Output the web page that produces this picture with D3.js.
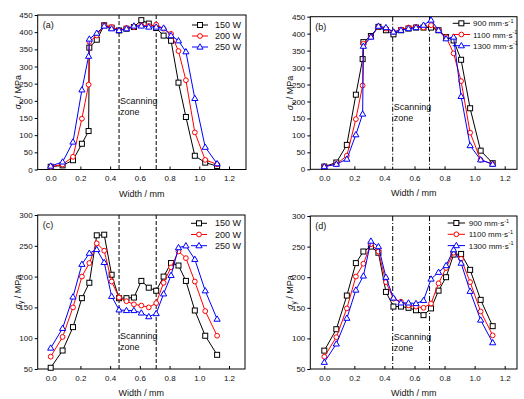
<!DOCTYPE html>
<html><head><meta charset="utf-8">
<script src="https://cdn.jsdelivr.net/npm/d3@7"></script>
<style>body{margin:0;background:#fff}svg{display:block;font-family:Arial,"Liberation Sans",sans-serif}</style>
</head><body><svg id="c" width="524" height="399"></svg>
<script>
// ---------- data ----------
const widthAB = [0,0.08,0.15,0.21,0.255,0.26,0.31,0.36,0.41,0.46,0.51,0.56,0.61,0.66,0.71,0.76,0.81,0.86,0.91,0.97,1.04,1.12];
const widthCD = [0,0.08,0.15,0.21,0.26,0.31,0.36,0.41,0.46,0.51,0.56,0.61,0.66,0.71,0.76,0.81,0.86,0.91,0.97,1.04,1.12];

const powerLabels = ["150 W","200 W","250 W"];
const speedLabels = ["900","1100","1300"];

const a150 = [8,12,27,75,112,355,378,420,413,405,410,415,435,425,412,390,375,253,153,40,20,10];
const a200 = [8,15,37,148,247,372,390,420,415,405,412,415,420,418,422,410,395,345,260,108,28,15];
const a250 = [10,22,80,232,330,380,397,418,410,405,410,418,418,415,415,412,390,375,343,207,65,17];

const b900  = [8,20,72,220,325,375,393,420,410,398,410,415,418,418,418,410,390,380,323,180,55,18];
const b1100 = [8,15,40,148,247,370,390,420,415,405,412,418,420,418,425,410,390,342,260,108,28,15];
const b1300 = [8,15,30,102,163,363,390,422,418,405,410,415,418,425,440,410,385,390,215,70,28,15];

const c150 = [52,80,118,165,190,267,268,203,165,165,166,193,182,177,200,222,218,193,145,104,73];
const c200 = [70,102,150,200,222,254,242,192,166,160,155,153,150,157,190,215,241,230,192,144,104];
const c250 = [84,116,167,220,238,244,223,168,146,145,145,141,135,140,172,202,247,250,228,177,131];

const d900  = [80,115,170,223,242,250,240,176,152,152,150,146,138,149,178,200,237,238,212,163,120];
const d1100 = [70,102,149,201,222,254,242,192,165,160,154,152,150,157,190,215,240,230,192,144,105];
const d1300 = [61,91,133,179,202,259,250,200,166,158,158,157,162,197,208,219,245,223,177,130,93];

const xTicks = [0,0.2,0.4,0.6,0.8,1.0,1.2];
const yTicksX = [0,50,100,150,200,250,300,350,400,450];
const yTicksY = [50,100,150,200,250,300];
const scanLinesAC = [0.46,0.71];
const scanLinesBD = [0.455,0.70];

// ---------- drawing ----------
const svg = d3.select("#c");
const colors = ["#000000","#ff0000","#0000ff"];
const shapes = ["square","circle","triangle"];

function marker(g, shape, x, y, color){
  if(shape==="square") g.append("rect").attr("x",x-2.5).attr("y",y-2.5).attr("width",5).attr("height",5)
     .attr("fill","#fff").attr("stroke",color).attr("stroke-width",1);
  else if(shape==="circle") g.append("circle").attr("cx",x).attr("cy",y).attr("r",2.4)
     .attr("fill","#fff").attr("stroke",color).attr("stroke-width",1);
  else g.append("path").attr("d",`M${x},${y-3.2}L${x+3.1},${y+2.1}L${x-3.1},${y+2.1}Z`)
     .attr("fill","#fff").attr("stroke",color).attr("stroke-width",1);
}

const panels = [
  {label:"(a)", box:{l:37.7,r:246,t:15,b:169.5}, x0:50.7, x12:229, yDom:[0,450], yTicks:yTicksX, sub:"x",
   xs:widthAB, series:[a150,a200,a250], names:powerLabels, speed:false, scan:scanLinesAC, dash:"4,2", scanY:103.5,
   leg:{x1:192,x2:208,tx:215,y0:25,dy:11}},
  {label:"(b)", box:{l:310.3,r:517,t:16.7,b:169.3}, x0:324.3, x12:504.7, yDom:[0,450], yTicks:yTicksX, sub:"x",
   xs:widthAB, series:[b900,b1100,b1300], names:speedLabels, speed:true, scan:scanLinesBD, dash:"5,2,1,2", scanY:109.5,
   leg:{x1:452.7,x2:470,tx:473,y0:23.3,dy:11.2}},
  {label:"(c)", box:{l:37.7,r:245,t:215,b:369}, x0:50.7, x12:229, yDom:[50,300], yTicks:yTicksY, sub:"y",
   xs:widthCD, series:[c150,c200,c250], names:powerLabels, speed:false, scan:scanLinesAC, dash:"4,2", scanY:338.5,
   leg:{x1:191,x2:207,tx:215,y0:223.3,dy:11.2}},
  {label:"(d)", box:{l:310.3,r:517,t:216,b:369}, x0:324.3, x12:504.7, yDom:[50,300], yTicks:yTicksY, sub:"y",
   xs:widthCD, series:[d900,d1100,d1300], names:speedLabels, speed:true, scan:scanLinesBD, dash:"5,2,1,2", scanY:339.5,
   leg:{x1:447.7,x2:465,tx:468.7,y0:223,dy:11.3}}
];

panels.forEach(p=>{
  const B = p.box;
  const per = (p.x12-p.x0)/1.2;
  const x = d3.scaleLinear().domain([(B.l-p.x0)/per,(B.r-p.x0)/per]).range([B.l,B.r]);
  const y = d3.scaleLinear().domain(p.yDom).range([B.b,B.t]);
  const g = svg.append("g");

  // frame
  g.append("rect").attr("x",B.l).attr("y",B.t).attr("width",B.r-B.l).attr("height",B.b-B.t)
   .attr("fill","none").attr("stroke","#000").attr("stroke-width",1);

  // y axis (outward ticks)
  const ya = g.append("g").attr("transform",`translate(${B.l},0)`)
    .call(d3.axisLeft(y).tickValues(p.yTicks).tickSize(3).tickPadding(2).tickFormat(d3.format("d")));
  ya.select(".domain").remove();
  ya.selectAll("text").attr("font-size",8).attr("font-family","Arial,'Liberation Sans',sans-serif").attr("fill","#111");
  // x axis (inward ticks)
  const xa = g.append("g").attr("transform",`translate(0,${B.b})`)
    .call(d3.axisBottom(x).tickValues(xTicks).tickSize(-3).tickPadding(6).tickFormat(d3.format(".1f")));
  xa.select(".domain").remove();
  xa.selectAll("text").attr("font-size",8).attr("font-family","Arial,'Liberation Sans',sans-serif").attr("fill","#111");

  // axis titles
  g.append("text").attr("x",(B.l+B.r)/2).attr("y",B.b+27).attr("text-anchor","middle")
   .attr("font-size",9).attr("fill","#111").text("Width / mm");
  const yl = g.append("text").attr("transform",`translate(${B.l-17},${(B.t+B.b)/2}) rotate(-90)`)
   .attr("text-anchor","middle").attr("font-size",9).attr("fill","#111");
  yl.append("tspan").attr("font-style","italic").text("σ");
  yl.append("tspan").attr("font-size",6.5).attr("dy",2.5).text(p.sub);
  yl.append("tspan").attr("dy",-2.5).text(" / MPa");

  // panel label
  g.append("text").attr("x",B.l+5).attr("y",B.t+13).attr("font-size",9).attr("fill","#111").text(p.label);

  // scanning zone lines
  p.scan.forEach(v=>{
    g.append("line").attr("x1",x(v)).attr("x2",x(v)).attr("y1",B.t).attr("y2",B.b)
     .attr("stroke","#000").attr("stroke-width",1).attr("stroke-dasharray",p.dash);
  });
  const tx = x(p.scan[0])+1;
  g.append("text").attr("x",tx).attr("y",p.scanY).attr("font-size",9).attr("fill","#111").text("Scanning");
  g.append("text").attr("x",tx).attr("y",p.scanY+11).attr("font-size",9).attr("fill","#111").text("zone");

  // series
  const line = d3.line().x(d=>x(d[0])).y(d=>y(d[1]));
  p.series.forEach((s,i)=>{
    const pts = s.map((v,k)=>[p.xs[k],v]);
    g.append("path").attr("d",line(pts)).attr("fill","none").attr("stroke",colors[i]).attr("stroke-width",1);
    pts.forEach(d=>marker(g,shapes[i],x(d[0]),y(d[1]),colors[i]));
  });

  // legend
  const L = p.leg;
  p.names.forEach((n,i)=>{
    const yy = L.y0 + i*L.dy;
    g.append("line").attr("x1",L.x1).attr("x2",L.x2).attr("y1",yy).attr("y2",yy).attr("stroke",colors[i]).attr("stroke-width",1);
    marker(g,shapes[i],(L.x1+L.x2)/2,yy,colors[i]);
    const t = g.append("text").attr("x",L.tx).attr("y",yy+3).attr("fill","#111")
      .attr("font-size",p.speed?8:9);
    if(p.speed){
      t.append("tspan").text(n+" mm·s");
      t.append("tspan").attr("font-size",5.5).attr("dy",-3.5).text("-1");
    } else t.text(n);
  });
});
</script></body></html>
